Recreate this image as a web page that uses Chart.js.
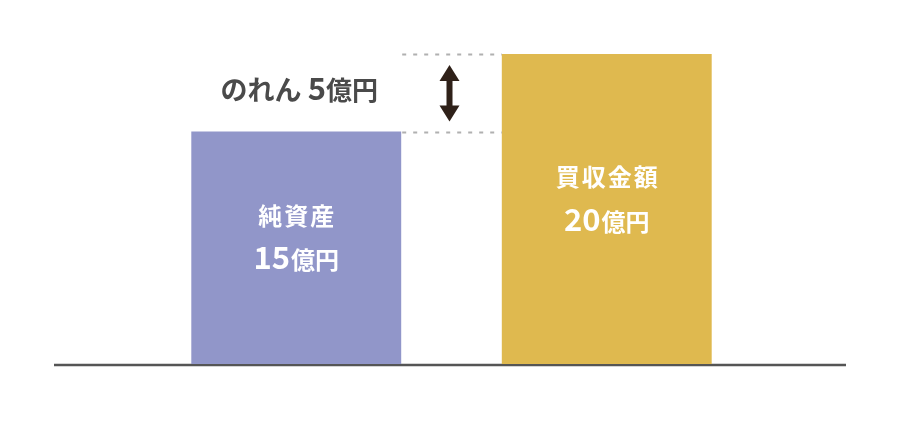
<!DOCTYPE html>
<html><head><meta charset="utf-8">
<script src="https://cdn.jsdelivr.net/npm/chart.js@4.4.1/dist/chart.umd.min.js"></script>
<style>html,body{margin:0;padding:0;background:#fff;}#wrap{width:900px;height:423px;}</style>
</head><body><div id="wrap"><canvas id="c" width="900" height="423"></canvas></div>
<script>
const categories = ['純資産', '買収金額'];
const values = [15, 20];
const unitLabel = '億円';
const goodwillName = 'のれん';
const goodwillValue = [5];

const barColors = ['#9196c9', '#dfb94f'];
const FONT = '"Noto Sans CJK JP", "Noto Sans", sans-serif';

function drawNumUnit(ctx, cx, baseline, num, numSize, unitSize, color, gap) {
  ctx.save();
  ctx.fillStyle = color;
  ctx.textBaseline = 'alphabetic';
  ctx.textAlign = 'left';
  ctx.font = 'bold ' + numSize + 'px ' + FONT;
  const wn = ctx.measureText(String(num)).width;
  ctx.font = 'bold ' + unitSize + 'px ' + FONT;
  const wu = ctx.measureText(unitLabel).width;
  const total = wn + gap + wu;
  let x = cx - total / 2;
  ctx.font = 'bold ' + numSize + 'px ' + FONT;
  ctx.fillText(String(num), x, baseline);
  ctx.font = 'bold ' + unitSize + 'px ' + FONT;
  ctx.fillText(unitLabel, x + wn + gap, baseline);
  ctx.restore();
}

const overlay = {
  id: 'overlay',
  beforeDatasetsDraw(chart) {
    const ctx = chart.ctx;
    const y = chart.scales.y;
    const y0 = y.getPixelForValue(0);
    ctx.save();
    ctx.strokeStyle = '#555555';
    ctx.lineWidth = 2.5;
    ctx.beginPath();
    ctx.moveTo(54, y0 + 1);
    ctx.lineTo(846, y0 + 1);
    ctx.stroke();
    ctx.restore();
  },
  afterDatasetsDraw(chart) {
    const ctx = chart.ctx;
    const y = chart.scales.y;
    const meta = chart.getDatasetMeta(0);
    const b0 = meta.data[0], b1 = meta.data[1];
    const w0 = b0.width, w1 = b1.width;
    const r0 = b0.x + w0 / 2, l1 = b1.x - w1 / 2;

    // dotted guide lines
    ctx.save();
    ctx.strokeStyle = '#b0b0b0';
    ctx.lineWidth = 2;
    ctx.setLineDash([4, 7]);
    [values[1], values[0]].forEach(v => {
      const py = Math.round(y.getPixelForValue(v)) + 0.5;
      ctx.beginPath();
      ctx.moveTo(r0 + 1, py);
      ctx.lineTo(l1, py);
      ctx.stroke();
    });
    ctx.restore();

    // double arrow
    const ax = (r0 + l1) / 2 - 2;
    const top = y.getPixelForValue(values[1]) + 11;
    const bot = y.getPixelForValue(values[0]) - 10;
    const hw = 10, hh = 16, sw = 3;
    ctx.save();
    ctx.fillStyle = '#2f2119';
    ctx.beginPath();
    ctx.moveTo(ax, top);
    ctx.lineTo(ax + hw, top + hh);
    ctx.lineTo(ax + sw, top + hh);
    ctx.lineTo(ax + sw, bot - hh);
    ctx.lineTo(ax + hw, bot - hh);
    ctx.lineTo(ax, bot);
    ctx.lineTo(ax - hw, bot - hh);
    ctx.lineTo(ax - sw, bot - hh);
    ctx.lineTo(ax - sw, top + hh);
    ctx.lineTo(ax - hw, top + hh);
    ctx.closePath();
    ctx.fill();
    ctx.restore();

    // goodwill label
    const gmid = (y.getPixelForValue(values[0]) + y.getPixelForValue(values[1])) / 2;
    ctx.save();
    ctx.fillStyle = '#4a4a4a';
    ctx.textBaseline = 'alphabetic';
    ctx.textAlign = 'left';
    ctx.font = 'bold 27px ' + FONT;
    const nameW = ctx.measureText(goodwillName + ' ').width;
    ctx.font = 'bold 31px ' + FONT;
    const numW = ctx.measureText(String(goodwillValue[0])).width;
    ctx.font = 'bold 26px ' + FONT;
    const unitW = ctx.measureText(unitLabel).width;
    const tot = nameW + numW + unitW;
    let gx = b0.x + 3 - tot / 2;
    const gb = gmid + 7;
    ctx.font = 'bold 27px ' + FONT;
    ctx.fillText(goodwillName + ' ', gx, gb);
    ctx.font = 'bold 31px ' + FONT;
    ctx.fillText(String(goodwillValue[0]), gx + nameW, gb);
    ctx.font = 'bold 26px ' + FONT;
    ctx.fillText(unitLabel, gx + nameW + numW, gb);
    ctx.restore();

    // bar labels
    meta.data.forEach((bar, i) => {
      const mid = (bar.y + bar.base) / 2;
      ctx.save();
      ctx.fillStyle = '#ffffff';
      ctx.font = 'bold 24px ' + FONT;
      ctx.letterSpacing = '2px';
      ctx.textAlign = 'center';
      ctx.textBaseline = 'middle';
      ctx.fillText(categories[i], bar.x + 1, mid - 32);
      ctx.restore();
      drawNumUnit(ctx, bar.x, mid + 21.5, values[i], 31, 24, '#ffffff', 1);
    });
  }
};

new Chart(document.getElementById('c'), {
  type: 'bar',
  data: {
    labels: categories,
    datasets: [{
      data: values,
      backgroundColor: barColors,
      borderWidth: 0,
      barPercentage: 0.676,
      categoryPercentage: 1
    }]
  },
  options: {
    responsive: false,
    animation: false,
    events: [],
    layout: { padding: { left: 141, right: 138, top: 23, bottom: 59 } },
    plugins: { legend: { display: false }, tooltip: { enabled: false } },
    scales: {
      x: { display: false },
      y: { display: false, min: 0, max: 22 }
    }
  },
  plugins: [overlay]
});
</script></body></html>
